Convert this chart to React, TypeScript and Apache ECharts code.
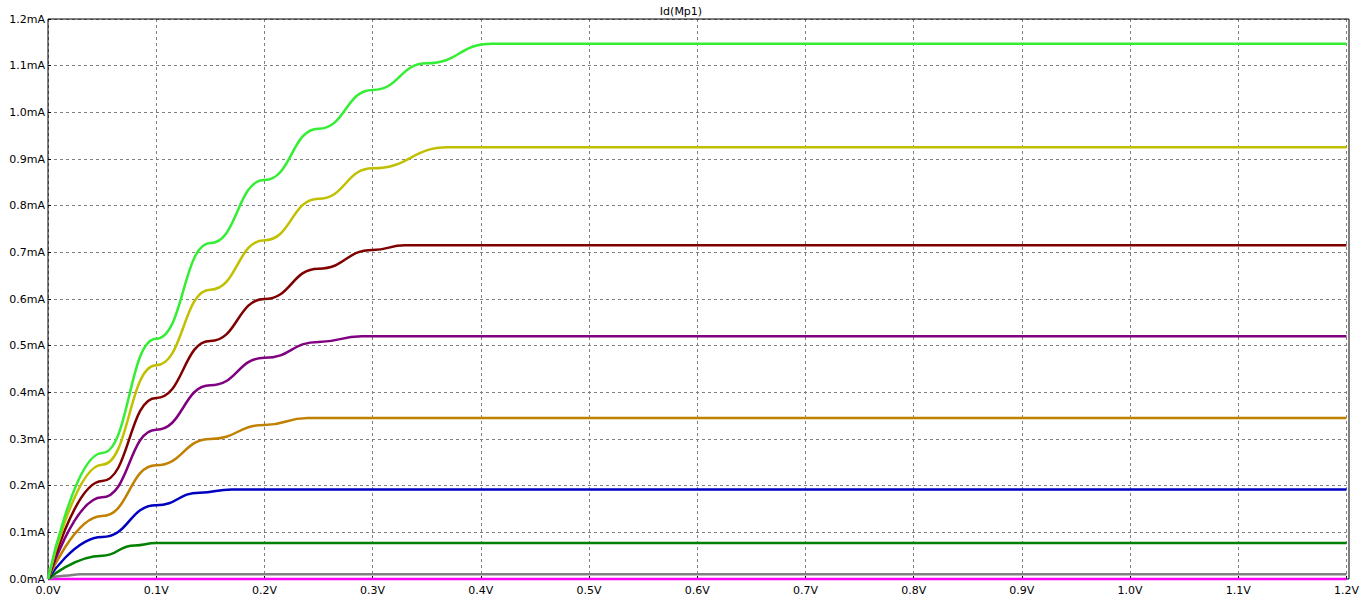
import { useEffect, useRef } from "react";
import * as echarts from "echarts";

const xTicks = [0, 0.1, 0.2, 0.3, 0.4, 0.5, 0.6, 0.7, 0.8, 0.9, 1.0, 1.1, 1.2];

// [Vds (V), Id (mA)]
const curveGreen = [[0, 0], [0.05, 0.27], [0.1, 0.515], [0.15, 0.72], [0.2, 0.855], [0.25, 0.965], [0.3, 1.048], [0.35, 1.105], [0.41, 1.147], [1.2, 1.147]];
const curveYellow = [[0, 0], [0.05, 0.245], [0.1, 0.458], [0.15, 0.62], [0.2, 0.726], [0.25, 0.815], [0.3, 0.88], [0.37, 0.925], [1.2, 0.925]];
const curveDarkRed = [[0, 0], [0.05, 0.21], [0.1, 0.388], [0.15, 0.51], [0.2, 0.6], [0.25, 0.665], [0.3, 0.705], [0.33, 0.715], [1.2, 0.715]];
const curvePurple = [[0, 0], [0.05, 0.175], [0.1, 0.32], [0.15, 0.415], [0.2, 0.474], [0.25, 0.508], [0.29, 0.52], [1.2, 0.52]];
const curveOrange = [[0, 0], [0.05, 0.135], [0.1, 0.244], [0.15, 0.3], [0.2, 0.33], [0.24, 0.345], [1.2, 0.345]];
const curveBlue = [[0, 0], [0.05, 0.09], [0.1, 0.158], [0.14, 0.185], [0.17, 0.192], [1.2, 0.192]];
const curveDarkGreen = [[0, 0], [0.05, 0.05], [0.08, 0.072], [0.1, 0.077], [1.2, 0.077]];
const curveGray = [[0, 0], [0.015, 0.007], [0.03, 0.01], [1.2, 0.01]];
const curveMagenta = [[0, 0], [1.2, 0]];

const curves = [
  { data: curveMagenta, color: "#ff00ff" },
  { data: curveGray, color: "#808080" },
  { data: curveDarkGreen, color: "#008000" },
  { data: curveBlue, color: "#0000c0" },
  { data: curveOrange, color: "#c08000" },
  { data: curvePurple, color: "#800080" },
  { data: curveDarkRed, color: "#800000" },
  { data: curveYellow, color: "#c0c000" },
  { data: curveGreen, color: "#33ee33" },
];

function App() {
  const chartRef = useRef(null);

  useEffect(() => {
    document.body.style.margin = "0";
    const chart = echarts.init(chartRef.current, null, { renderer: "svg" });

    const gridLine = { show: true, lineStyle: { color: "#808080", type: [3, 3] as any, width: 1 } };
    const option = {
      animation: false,
      backgroundColor: "#ffffff",
      title: {
        text: "Id(Mp1)",
        left: "center",
        top: 1,
        textStyle: { fontFamily: "DejaVu Sans", fontSize: 11, color: "#000", fontWeight: "normal" },
      },
      grid: { left: 48, right: 13, top: 19, bottom: 26 },
      xAxis: {
        type: "value",
        min: 0,
        max: 1.2,
        interval: 0.1,
        axisLine: { show: false },
        axisTick: { show: true, length: 3, inside: true, lineStyle: { color: "#000" } },
        splitLine: gridLine,
        axisLabel: {
          color: "#000",
          fontFamily: "DejaVu Sans",
          fontSize: 11,
          margin: 6,
          formatter: (v: number) => v.toFixed(1) + "V",
        },
      },
      yAxis: {
        type: "value",
        min: 0,
        max: 1.2,
        interval: 0.1,
        axisLine: { show: false },
        axisTick: { show: true, length: 3, inside: true, lineStyle: { color: "#000" } },
        splitLine: gridLine,
        axisLabel: {
          color: "#000",
          fontFamily: "DejaVu Sans",
          fontSize: 11,
          margin: 3,
          formatter: (v: number) => v.toFixed(1) + "mA",
        },
      },
      graphic: [
        {
          type: "rect",
          shape: { x: 48, y: 19, width: 1301, height: 560 },
          style: { fill: "none", stroke: "#000", lineWidth: 1 },
          z: 1,
        },
      ],
      series: curves.map((c) => ({
        type: "line",
        data: c.data,
        smooth: 0.5,
        smoothMonotone: "x",
        clip: false,
        symbol: "none",
        z: 5,
        lineStyle: { color: c.color, width: 2.5 },
      })),
    };

    chart.setOption(option);
    return () => chart.dispose();
  }, []);

  return <div ref={chartRef} style={{ width: 1362, height: 605 }} />;
}

export default App;
